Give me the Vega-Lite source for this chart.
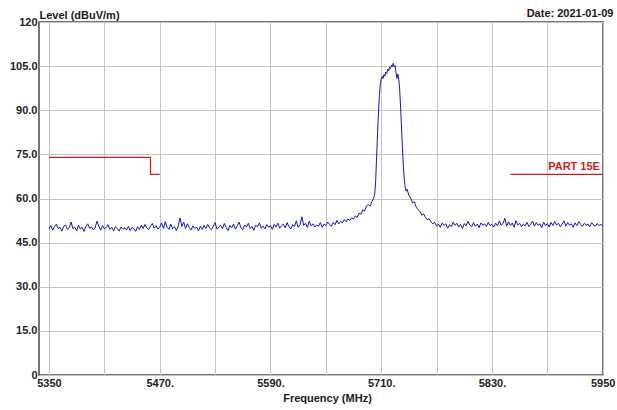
{
  "$schema": "https://vega.github.io/schema/vega-lite/v6.json",
  "autosize": {"type": "none"},
  "width": 564,
  "height": 353,
  "padding": {"left": 39, "top": 22, "right": 14, "bottom": 35},
  "background": "white",
  "config": {
    "view": {"stroke": "#4a4a4a", "strokeWidth": 1.5},
    "font": "Liberation Sans"
  },
  "resolve": {"axis": {"x": "independent"}},
  "datasets": {
    "trace": [
      {"f":5350,"v":49.6},{"f":5352,"v":50.8},{"f":5354,"v":49.2},{"f":5356,"v":50.4},{"f":5358,"v":51.3},{"f":5360,"v":49.8},{"f":5362,"v":50.2},{"f":5364,"v":48.9},{"f":5366,"v":50.6},{"f":5368,"v":51.0},
      {"f":5370,"v":49.5},{"f":5372,"v":50.1},{"f":5374,"v":52.0},{"f":5376,"v":49.7},{"f":5378,"v":50.3},{"f":5380,"v":49.0},{"f":5382,"v":50.9},{"f":5384,"v":49.6},{"f":5386,"v":50.2},{"f":5388,"v":48.8},
      {"f":5390,"v":50.5},{"f":5392,"v":51.4},{"f":5394,"v":49.9},{"f":5396,"v":50.3},{"f":5398,"v":49.4},{"f":5400,"v":50.0},{"f":5402,"v":52.3},{"f":5404,"v":50.6},{"f":5406,"v":49.2},{"f":5408,"v":50.8},
      {"f":5410,"v":49.7},{"f":5412,"v":50.1},{"f":5414,"v":51.1},{"f":5416,"v":49.5},{"f":5418,"v":50.2},{"f":5420,"v":49.0},{"f":5422,"v":50.4},{"f":5424,"v":49.8},{"f":5426,"v":48.9},{"f":5428,"v":50.3},
      {"f":5430,"v":49.6},{"f":5432,"v":50.0},{"f":5434,"v":49.3},{"f":5436,"v":50.5},{"f":5438,"v":49.1},{"f":5440,"v":50.2},{"f":5442,"v":49.7},{"f":5444,"v":48.8},{"f":5446,"v":50.4},{"f":5448,"v":49.5},
      {"f":5450,"v":50.9},{"f":5452,"v":49.8},{"f":5454,"v":51.2},{"f":5456,"v":50.0},{"f":5458,"v":49.4},{"f":5460,"v":50.6},{"f":5462,"v":51.5},{"f":5464,"v":49.9},{"f":5466,"v":50.8},{"f":5468,"v":49.6},
      {"f":5470,"v":50.3},{"f":5472,"v":51.7},{"f":5474,"v":49.8},{"f":5476,"v":52.1},{"f":5478,"v":50.2},{"f":5480,"v":49.5},{"f":5482,"v":51.3},{"f":5484,"v":49.7},{"f":5486,"v":50.4},{"f":5488,"v":49.1},
      {"f":5490,"v":50.6},{"f":5492,"v":53.4},{"f":5494,"v":50.5},{"f":5496,"v":52.0},{"f":5498,"v":49.8},{"f":5500,"v":51.4},{"f":5502,"v":50.1},{"f":5504,"v":49.3},{"f":5506,"v":50.7},{"f":5508,"v":49.9},
      {"f":5510,"v":50.2},{"f":5512,"v":49.0},{"f":5514,"v":50.6},{"f":5516,"v":49.5},{"f":5518,"v":50.9},{"f":5520,"v":49.8},{"f":5522,"v":51.2},{"f":5524,"v":50.0},{"f":5526,"v":49.4},{"f":5528,"v":50.5},
      {"f":5530,"v":51.8},{"f":5532,"v":49.6},{"f":5534,"v":50.3},{"f":5536,"v":50.9},{"f":5538,"v":49.7},{"f":5540,"v":51.5},{"f":5542,"v":50.2},{"f":5544,"v":49.1},{"f":5546,"v":50.8},{"f":5548,"v":50.0},
      {"f":5550,"v":51.3},{"f":5552,"v":49.6},{"f":5554,"v":50.7},{"f":5556,"v":52.0},{"f":5558,"v":50.1},{"f":5560,"v":49.4},{"f":5562,"v":51.0},{"f":5564,"v":50.3},{"f":5566,"v":51.6},{"f":5568,"v":49.8},
      {"f":5570,"v":50.5},{"f":5572,"v":49.2},{"f":5574,"v":50.9},{"f":5576,"v":50.4},{"f":5578,"v":51.7},{"f":5580,"v":49.9},{"f":5582,"v":50.6},{"f":5584,"v":49.7},{"f":5586,"v":51.1},{"f":5588,"v":50.2},
      {"f":5590,"v":50.8},{"f":5592,"v":49.5},{"f":5594,"v":51.2},{"f":5596,"v":50.3},{"f":5598,"v":51.6},{"f":5600,"v":49.9},{"f":5602,"v":50.7},{"f":5604,"v":51.3},{"f":5606,"v":50.0},{"f":5608,"v":51.8},
      {"f":5610,"v":50.4},{"f":5612,"v":49.6},{"f":5614,"v":51.1},{"f":5616,"v":50.5},{"f":5618,"v":52.4},{"f":5620,"v":50.2},{"f":5622,"v":51.0},{"f":5624,"v":53.8},{"f":5626,"v":50.9},{"f":5628,"v":51.6},
      {"f":5630,"v":50.1},{"f":5632,"v":52.3},{"f":5634,"v":50.7},{"f":5636,"v":51.4},{"f":5638,"v":50.3},{"f":5640,"v":51.0},{"f":5642,"v":50.6},{"f":5644,"v":51.8},{"f":5646,"v":50.2},{"f":5648,"v":51.3},
      {"f":5650,"v":50.8},{"f":5652,"v":52.0},{"f":5654,"v":51.2},{"f":5656,"v":50.6},{"f":5658,"v":51.9},{"f":5660,"v":51.1},{"f":5662,"v":52.6},{"f":5664,"v":51.4},{"f":5666,"v":52.2},{"f":5668,"v":51.7},
      {"f":5670,"v":52.9},{"f":5672,"v":52.1},{"f":5674,"v":53.0},{"f":5676,"v":52.6},{"f":5678,"v":53.4},{"f":5680,"v":53.0},{"f":5682,"v":54.1},{"f":5684,"v":53.6},{"f":5686,"v":55.0},{"f":5688,"v":54.6},
      {"f":5690,"v":56.2},{"f":5692,"v":55.7},{"f":5694,"v":57.5},{"f":5696,"v":58.0},{"f":5698,"v":57.4},{"f":5700,"v":59.0},{"f":5702,"v":60.3},{"f":5703,"v":61.5},{"f":5704,"v":66},{"f":5705,"v":74},
      {"f":5706,"v":82},{"f":5707,"v":89},{"f":5708,"v":95},{"f":5709,"v":99},{"f":5710,"v":100.6},{"f":5711,"v":101.5},{"f":5712,"v":100.8},{"f":5713,"v":102.2},{"f":5714,"v":101.6},{"f":5715,"v":103.0},
      {"f":5716,"v":102.5},{"f":5717,"v":104.0},{"f":5718,"v":103.4},{"f":5719,"v":104.6},{"f":5720,"v":104.2},{"f":5721,"v":105.3},{"f":5722,"v":104.8},{"f":5723,"v":106.0},{"f":5724,"v":104.7},{"f":5725,"v":105.2},
      {"f":5726,"v":103.0},{"f":5727,"v":100.8},{"f":5728,"v":102.3},{"f":5729,"v":100.5},{"f":5730,"v":97},{"f":5731,"v":91},{"f":5732,"v":84},{"f":5733,"v":77},{"f":5734,"v":71},{"f":5735,"v":66.5},
      {"f":5736,"v":64.0},{"f":5737,"v":62.5},{"f":5738,"v":63.2},{"f":5740,"v":61.0},{"f":5742,"v":60.2},{"f":5744,"v":58.5},{"f":5746,"v":58.9},{"f":5748,"v":57.0},{"f":5750,"v":56.2},{"f":5752,"v":55.6},
      {"f":5754,"v":54.3},{"f":5756,"v":54.8},{"f":5758,"v":53.5},{"f":5760,"v":52.8},{"f":5762,"v":53.1},{"f":5764,"v":52.0},{"f":5766,"v":51.4},{"f":5768,"v":51.9},{"f":5770,"v":50.6},{"f":5772,"v":51.3},
      {"f":5774,"v":50.2},{"f":5776,"v":51.7},{"f":5778,"v":50.8},{"f":5780,"v":51.4},{"f":5782,"v":49.9},{"f":5784,"v":51.1},{"f":5786,"v":50.5},{"f":5788,"v":52.0},{"f":5790,"v":50.9},{"f":5792,"v":51.6},
      {"f":5794,"v":50.3},{"f":5796,"v":51.2},{"f":5798,"v":49.8},{"f":5800,"v":51.5},{"f":5802,"v":50.7},{"f":5804,"v":52.2},{"f":5806,"v":51.0},{"f":5808,"v":50.4},{"f":5810,"v":51.8},{"f":5812,"v":50.6},
      {"f":5814,"v":51.3},{"f":5816,"v":50.1},{"f":5818,"v":51.7},{"f":5820,"v":50.9},{"f":5822,"v":51.4},{"f":5824,"v":50.5},{"f":5826,"v":51.9},{"f":5828,"v":50.8},{"f":5830,"v":51.2},{"f":5832,"v":50.3},
      {"f":5834,"v":51.6},{"f":5836,"v":50.7},{"f":5838,"v":52.4},{"f":5840,"v":50.9},{"f":5842,"v":51.5},{"f":5844,"v":53.3},{"f":5846,"v":50.6},{"f":5848,"v":52.1},{"f":5850,"v":50.8},{"f":5852,"v":51.7},
      {"f":5854,"v":50.2},{"f":5856,"v":52.5},{"f":5858,"v":51.0},{"f":5860,"v":51.6},{"f":5862,"v":50.4},{"f":5864,"v":51.3},{"f":5866,"v":50.7},{"f":5868,"v":51.9},{"f":5870,"v":50.5},{"f":5872,"v":51.2},
      {"f":5874,"v":52.3},{"f":5876,"v":50.6},{"f":5878,"v":51.8},{"f":5880,"v":50.9},{"f":5882,"v":51.4},{"f":5884,"v":50.1},{"f":5886,"v":52.0},{"f":5888,"v":50.7},{"f":5890,"v":51.5},{"f":5892,"v":50.3},
      {"f":5894,"v":51.9},{"f":5896,"v":50.8},{"f":5898,"v":52.2},{"f":5900,"v":51.0},{"f":5902,"v":51.6},{"f":5904,"v":50.4},{"f":5906,"v":51.3},{"f":5908,"v":52.4},{"f":5910,"v":50.6},{"f":5912,"v":51.8},
      {"f":5914,"v":50.9},{"f":5916,"v":51.4},{"f":5918,"v":50.2},{"f":5920,"v":51.7},{"f":5922,"v":50.8},{"f":5924,"v":52.1},{"f":5926,"v":51.2},{"f":5928,"v":50.5},{"f":5930,"v":51.6},{"f":5932,"v":50.9},
      {"f":5934,"v":51.3},{"f":5936,"v":50.4},{"f":5938,"v":51.8},{"f":5940,"v":51.0},{"f":5942,"v":50.6},{"f":5944,"v":51.5},{"f":5946,"v":50.8},{"f":5948,"v":51.2},{"f":5950,"v":50.7}
    ],
    "limit": [
      {"seg":"a","i":0,"f":5350,"v":74.0},
      {"seg":"a","i":1,"f":5460,"v":74.0},
      {"seg":"a","i":2,"f":5460,"v":68.2},
      {"seg":"a","i":3,"f":5470,"v":68.2},
      {"seg":"b","i":0,"f":5850,"v":68.2},
      {"seg":"b","i":1,"f":5950,"v":68.2}
    ],
    "label": [
      {"f":5947,"v":69.6,"text":"PART 15E"}
    ]
  },
  "encoding": {
    "y": {
      "field": "v",
      "type": "quantitative",
      "scale": {"domain": [0, 120], "nice": false},
      "axis": {
        "title": "Level (dBuV/m)",
        "titleAngle": 0,
        "titleAlign": "left",
        "titleBaseline": "middle",
        "titleX": 0,
        "titleY": -7,
        "titleFont": "Liberation Sans",
        "titleFontSize": 11,
        "titleFontWeight": "bold",
        "titleColor": "#1a1a1a",
        "values": [0,15,30,45,60,75,90,105,120],
        "labelExpr": "datum.value == 0 ? '0' : (datum.value == 120 ? '120' : format(datum.value, '.1f'))",
        "labelFont": "Liberation Sans",
        "labelFontSize": 11,
        "labelFontWeight": "bold",
        "labelColor": "#222222",
        "labelPadding": 2,
        "labelOverlap": false,
        "labelBound": false,
        "labelFlush": false,
        "ticks": false,
        "domain": false,
        "grid": true,
        "gridColor": "#c4c4c4",
        "gridOpacity": 1,
        "gridWidth": 1
      }
    }
  },
  "layer": [
    {
      "data": {"name": "trace"},
      "mark": {"type": "line", "color": "#1414c8", "strokeWidth": 1, "clip": true},
      "encoding": {
        "x": {
          "field": "f",
          "type": "quantitative",
          "scale": {"domain": [5339.2, 5950.3], "nice": false, "zero": false},
          "axis": {
            "title": "Frequency (MHz)",
            "titleFont": "Liberation Sans",
            "titleFontSize": 11,
            "titleFontWeight": "bold",
            "titleColor": "#1a1a1a",
            "titlePadding": 4,
            "titleX": 288,
            "values": [5350,5410,5470,5530,5590,5650,5710,5770,5830,5890,5950],
            "labelExpr": "(datum.value - 5350) % 120 != 0 ? '' : (datum.value == 5350 || datum.value == 5950 ? datum.label : datum.label + '.')",
            "format": "d",
            "labelFont": "Liberation Sans",
            "labelFontSize": 11,
            "labelFontWeight": "bold",
            "labelColor": "#222222",
            "labelPadding": 2,
            "labelOverlap": false,
            "labelBound": false,
            "labelFlush": false,
            "ticks": false,
            "domain": false,
            "grid": true,
            "gridColor": "#c4c4c4",
            "gridOpacity": 1,
            "gridWidth": 1
          }
        }
      }
    },
    {
      "data": {"name": "limit"},
      "mark": {"type": "line", "color": "#cc2020", "strokeWidth": 1.2},
      "encoding": {
        "x": {"field": "f", "type": "quantitative", "axis": null},
        "detail": {"field": "seg", "type": "nominal"},
        "order": {"field": "i", "type": "quantitative"}
      }
    },
    {
      "data": {"name": "label"},
      "mark": {"type": "text", "align": "right", "baseline": "alphabetic", "font": "Liberation Sans", "fontSize": 11, "fontWeight": "bold", "color": "#d01c1c"},
      "encoding": {
        "x": {
          "field": "f",
          "type": "quantitative",
          "axis": {
            "orient": "top",
            "title": "Date: 2021-01-09",
            "titleFont": "Liberation Sans",
            "titleFontSize": 11,
            "titleFontWeight": "bold",
            "titleColor": "#1a1a1a",
            "titleAlign": "right",
            "titleBaseline": "middle",
            "titleAnchor": null,
            "titleX": 574,
            "titleY": -9,
            "labels": false,
            "ticks": false,
            "domain": false,
            "grid": false
          }
        },
        "text": {"field": "text", "type": "nominal"}
      }
    }
  ]
}
